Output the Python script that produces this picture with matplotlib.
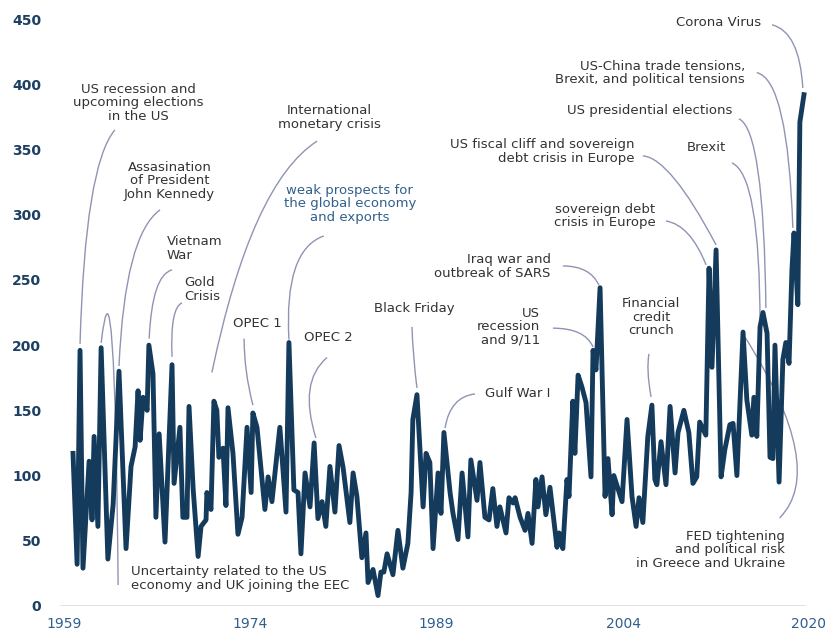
import numpy as np
import matplotlib
matplotlib.use("Agg")
import matplotlib.pyplot as plt
from matplotlib.path import Path
from matplotlib.patches import PathPatch

# quarter index (0 = start of 1959) and index value
quarter = [0, 1.4, 2.4, 3.4, 5.5, 6.5, 7.2, 8.5, 9.6, 11.9, 13.7, 15.7, 18.1, 19.8, 21.2, 22.2, 22.9, 23.9,
           25.3, 25.9, 27.3, 28.3, 29.4, 31.4, 33.8, 34.5, 36.5, 37.5, 38.9, 39.6, 41.0, 42.7, 43.7, 45.4,
           45.7, 47.1, 48.1, 49.1, 49.8, 51.2, 52.2, 52.9, 54.6, 56.3, 57.7, 59.4, 60.8, 61.4, 62.8, 65.5,
           66.6, 67.9, 70.6, 71.3, 72.7, 73.7, 75.4, 76.8, 77.8, 79.2, 80.9, 82.3, 83.6, 85.0, 86.3, 87.7,
           89.4, 90.8, 92.2, 94.5, 95.6, 96.9, 98.6, 100.0, 100.7, 102.4, 104.1, 105.1, 106.1, 107.2, 109.2,
           110.9, 112.6, 114.3, 115.4, 116.0, 117.4, 119.5, 120.5, 121.8, 122.9, 124.6, 125.6, 126.6, 128.7,
           129.7, 131.4, 132.8, 134.8, 135.8, 137.9, 138.9, 140.6, 142.0, 143.3, 144.7, 145.7, 147.8, 148.8,
           150.2, 150.9, 152.6, 154.3, 155.3, 156.7, 158.0, 158.7, 160.1, 161.4, 162.8, 165.2, 165.9, 167.2,
           168.6, 169.3, 170.6, 171.3, 172.4, 173.7, 175.1, 176.8, 177.5, 178.5, 179.9, 181.6, 182.6, 184.0,
           184.6, 187.4, 189.1, 190.8, 192.2, 193.2, 194.5, 196.2, 197.6, 198.6, 199.3, 200.7, 202.4, 203.8,
           205.5, 206.5, 208.5, 210.2, 211.6, 212.9, 213.9, 216.0, 217.1, 218.1, 219.5, 221.2, 222.5, 224.2,
           225.3, 226.6, 228.7, 230.0, 231.7, 232.4, 233.4, 234.5, 235.5, 236.9, 237.9, 238.9, 239.6, 241.0,
           242.3, 243.3, 244.4, 245.4, 246.1, 247.4, 248.1, 249.5]
index_value = [117, 32, 196, 29, 111, 66, 130, 61, 198, 36, 78, 180, 44, 107, 122, 165, 127, 160,
               150, 200, 178, 68, 132, 49, 185, 94, 137, 68, 68, 153, 90, 38, 61, 66,
               87, 74, 157, 150, 114, 121, 77, 152, 117, 55, 68, 137, 87, 148, 137, 74,
               99, 80, 137, 116, 72, 202, 89, 87, 40, 102, 76, 125, 67, 80, 61, 107,
               72, 123, 106, 64, 102, 84, 37, 56, 18, 28, 8, 26, 26, 40, 24,
               58, 29, 48, 87, 143, 162, 76, 117, 110, 44, 102, 71, 133, 87,
               71, 51, 102, 53, 112, 81, 110, 68, 66, 90, 61, 76, 56, 83,
               79, 83, 68, 58, 71, 48, 97, 76, 99, 70, 91, 45, 56, 44,
               97, 84, 157, 117, 177, 168, 156, 99, 196, 181, 244, 84, 113, 70,
               100, 80, 143, 84, 61, 83, 64, 130, 154, 97, 93, 126, 93, 153,
               102, 133, 150, 133, 94, 99, 141, 131, 259, 183, 273, 99, 120, 139,
               140, 100, 210, 158, 131, 160, 130, 214, 225, 209, 114, 113, 200, 95,
               189, 202, 186, 258, 286, 231, 371, 392]

year_labels = ["1959", "1974", "1989", "2004", "2020"]
year_label_pos = [-3, 60.5, 124, 188, 251]
y_ticks = list(range(0, 451, 50))

navy = "#143a5c"
lead_col = "#8f94b3"
text_col = "#333333"

fig = plt.figure(figsize=(8.28, 6.3), dpi=100)
ax = fig.add_axes([0.0726, 0.0381, 0.909, 0.9524])

ax.plot(quarter, index_value, color=navy, lw=3.5, solid_joinstyle="round", clip_on=False, zorder=3)
ax.hlines(0, -4.4, 249.8, color="#d9d9d9", lw=1.8, zorder=1)

ax.set_xlim(-4.4, 252.5)
ax.set_ylim(0, 460)
for s in ax.spines.values():
    s.set_visible(False)

ax.set_yticks(y_ticks)
ax.set_yticklabels([str(v) for v in y_ticks], fontsize=10, fontweight="bold", color="#1d3f63")
ax.tick_params(axis="y", length=0, pad=13.5)
ax.set_xticks(year_label_pos)
ax.set_xticklabels(year_labels, fontsize=10, color="#2f5f8c")
ax.tick_params(axis="x", length=0, pad=8)

# annotations: text, text pos, alignment, leader (start, control, end) in data units
notes = [
    ("US recession and\nupcoming elections\nin the US", (22.4, 385.7), "center", (14.3, 365), (4.1, 338), (2.4, 201)),
    ("International\nmonetary crisis", (87.4, 374.6), "center", (83.3, 356.4), (60.9, 324.1), (47.4, 179)),
    ("Assasination\nof President\nJohn Kennedy", (32.9, 325.9), "center", (29.7, 303.7), (17.7, 284.5), (15.7, 184)),
    ("Vietnam\nWar", (32.1, 274.2), "left", (33.8, 257.7), (27.0, 253.8), (26.0, 205)),
    ("Gold\nCrisis", (37.9, 242.7), "left", (37.2, 232.4), (33.1, 228.5), (33.8, 191)),
    ("OPEC 1", (63.1, 216.3), "center", (58.4, 205.0), (58.4, 180.0), (61.4, 154)),
    ("OPEC 2", (87.2, 205.5), "center", (86.7, 190.5), (76.9, 171.9), (82.9, 128.8)),
    ("Black Friday", (116.4, 227.8), "center", (115.7, 214), (116.0, 191.6), (117.4, 167.2)),
    ("Uncertainty related to the US\neconomy and UK joining the EEC", (19.8, 21.1), "left",
     (15.4, 16.1), (14.3, 292.2), (9.6, 201.7)),
    ("Gulf War I", (140.6, 162.6), "left", (137.2, 162.6), (128.7, 160.3), (127.0, 136.5)),
    ("US\nrecession\nand 9/11", (159.4, 214), "right", (163.8, 213.0), (174.7, 213.0), (177.5, 198.6)),
    ("Iraq war and\noutbreak of SARS", (163.1, 260.3), "right", (167.2, 260.7), (176.5, 260.7), (179.5, 246)),
    ("Financial\ncredit\ncrunch", (197.3, 221.2), "center", (196.6, 193.3), (195.6, 181.7), (197.3, 160.3)),
    ("sovereign debt\ncrisis in Europe", (181.6, 299.1), "center", (202.4, 295.2), (210.6, 292.2), (216.1, 261.5)),
    ("US fiscal cliff and sovereign\ndebt crisis in Europe", (191.5, 348.5), "right",
     (194.5, 345.1), (203.8, 343.6), (219.5, 276.8)),
    ("Brexit", (216.2, 351.2), "center", (224.9, 339.7), (234.5, 330.5), (234.5, 215.5)),
    ("US presidential elections", (224.9, 379.6), "right", (227.3, 373.5), (235.8, 365.0), (236.5, 228.5)),
    ("US-China trade tensions,\nBrexit, and political tensions", (229.4, 408.7), "right",
     (233.4, 408.9), (244.0, 403.5), (245.7, 289.9)),
    ("Corona Virus", (234.8, 447.1), "right", (238.6, 445.6), (248.0, 440.2), (249.1, 397.2)),
    ("FED tightening\nand political risk\nin Greece and Ukraine", (243.0, 43.3), "right",
     (241.2, 67.5), (257.6, 104.9), (229.4, 206.1)),
]

for label, pos, align, p0, p1, p2 in notes:
    col = "#2f5f8c" if label.startswith("weak") else text_col
    ax.text(pos[0], pos[1], label, ha=align, va="center", multialignment=align,
            fontsize=9.5, color=col, linespacing=1.05, zorder=4)
    path = Path([p0, p1, p2], [Path.MOVETO, Path.CURVE3, Path.CURVE3])
    ax.add_patch(PathPatch(path, fill=False, ec=lead_col, lw=1.0, clip_on=False, zorder=2))

ax.text(94.5, 308.3, "weak prospects for\nthe global economy\nand exports", ha="center", va="center",
        fontsize=9.5, color="#2f5f8c", linespacing=1.05, zorder=4)
weak = Path([(85.6, 283.7), (72.0, 273.0), (73.7, 204.3)], [Path.MOVETO, Path.CURVE3, Path.CURVE3])
ax.add_patch(PathPatch(weak, fill=False, ec=lead_col, lw=1.0, clip_on=False, zorder=2))

fig.savefig("out.png", dpi=100)
